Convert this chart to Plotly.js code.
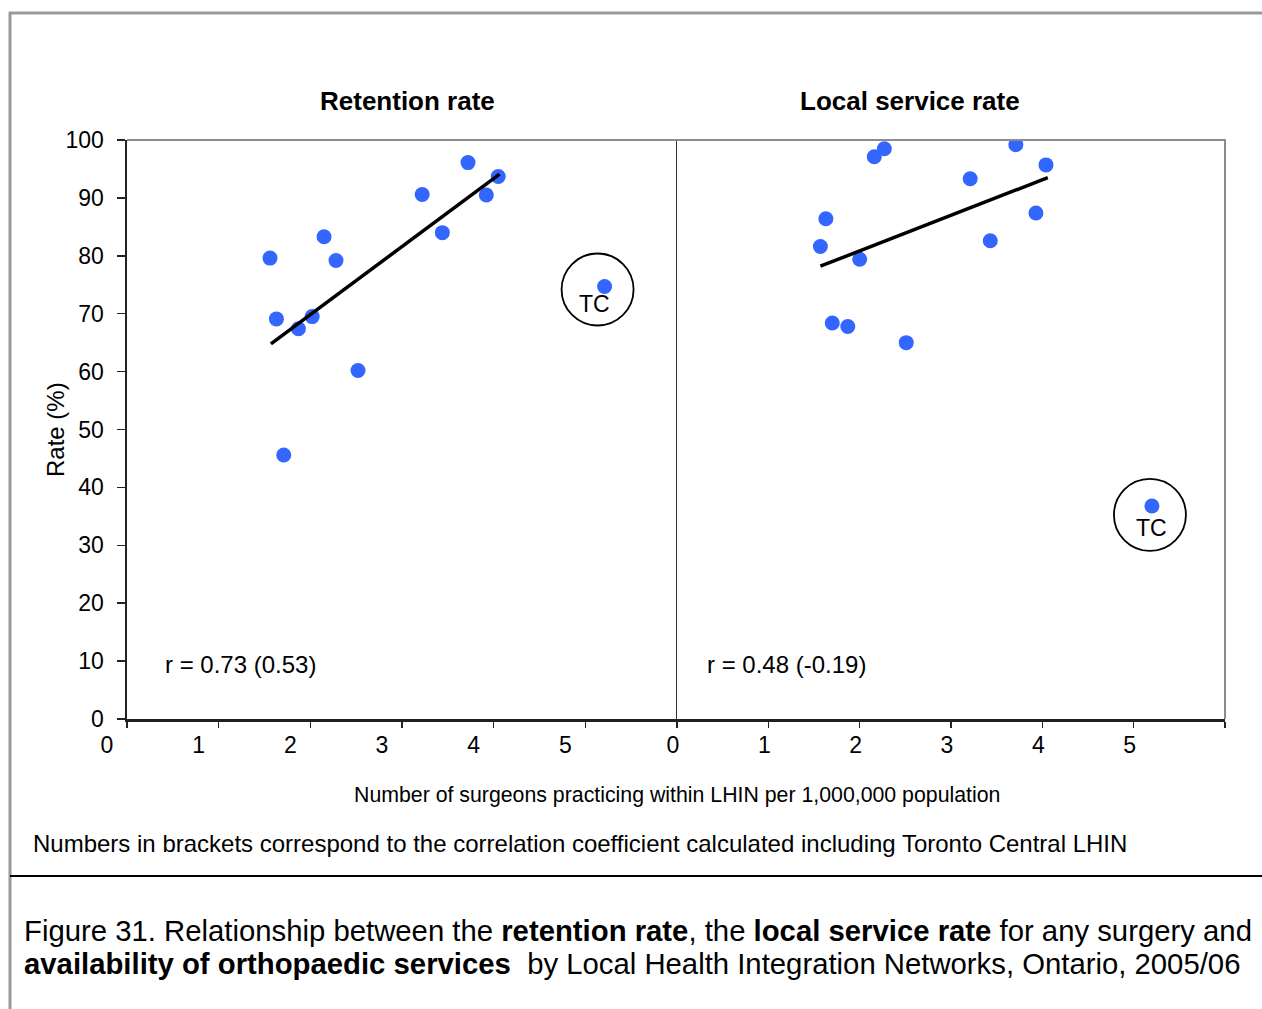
<!DOCTYPE html>
<html>
<head>
<meta charset="utf-8">
<script src="https://cdn.plot.ly/plotly-3.0.1.min.js"></script>
<style>html,body{margin:0;padding:0;background:#fff;}#chart{width:1262px;height:1009px;}</style>
</head>
<body>
<div id="chart"></div>
<script>
// Retention rate panel (surgeons per 1,000,000 vs rate %)
const retX = [1.56, 1.63, 1.71, 1.87, 2.02, 2.15, 2.28, 2.52, 3.22, 3.44, 3.72, 3.92, 4.05];
const retY = [79.6, 69.1, 45.6, 67.4, 69.5, 83.3, 79.2, 60.2, 90.6, 84.0, 96.1, 90.5, 93.7];
const retTC = {x: 5.21, y: 74.7};
const retTrendX = [1.57, 4.065];
const retTrendY = [64.8, 94.1];

// Local service rate panel
const locX = [1.57, 1.63, 1.70, 1.87, 2.00, 2.16, 2.27, 2.51, 3.21, 3.43, 3.71, 3.93, 4.04];
const locY = [81.6, 86.4, 68.4, 67.8, 79.4, 97.1, 98.5, 65.0, 93.3, 82.6, 99.2, 87.4, 95.7];
const locTC = {x: 5.20, y: 36.8};
const locTrendX = [1.57, 4.06];
const locTrendY = [78.2, 93.5];

const xTickVals = [0, 1, 2, 3, 4, 5, 6];
const xTickText = ['0', '1', '2', '3', '4', '5', ''];
const yTickVals = [0, 10, 20, 30, 40, 50, 60, 70, 80, 90, 100];

const panelTitles = ['Retention rate', 'Local service rate'];
const rTexts = ['r = 0.73 (0.53)', 'r = 0.48 (-0.19)'];
const xTitle = 'Number of surgeons practicing within LHIN per 1,000,000 population';
const yTitle = 'Rate (%)';
const noteText = 'Numbers in brackets correspond to the correlation coefficient calculated including Toronto Central LHIN';
const caption1 = 'Figure 31. Relationship between the <b>retention rate</b>, the <b>local service rate</b> for any surgery and';
const caption2 = '<b>availability of orthopaedic services</b>  by Local Health Integration Networks, Ontario, 2005/06';

const FONT = 'Liberation Sans, Arial, Helvetica, sans-serif';
const BLUE = '#3366ff';
const W = 1262, H = 1009;
const px = v => v / W;
const py = v => 1 - v / H;

const mk = {color: BLUE, size: 15};
const traces = [
  {x: retX, y: retY, type: 'scatter', mode: 'markers', marker: mk, xaxis: 'x', yaxis: 'y', hoverinfo: 'none'},
  {x: [retTC.x], y: [retTC.y], type: 'scatter', mode: 'markers', marker: mk, xaxis: 'x', yaxis: 'y', hoverinfo: 'none'},
  {x: retTrendX, y: retTrendY, type: 'scatter', mode: 'lines', line: {color: '#000', width: 3.5}, xaxis: 'x', yaxis: 'y', hoverinfo: 'none'},
  {x: locX, y: locY, type: 'scatter', mode: 'markers', marker: mk, xaxis: 'x2', yaxis: 'y2', hoverinfo: 'none'},
  {x: [locTC.x], y: [locTC.y], type: 'scatter', mode: 'markers', marker: mk, xaxis: 'x2', yaxis: 'y2', hoverinfo: 'none'},
  {x: locTrendX, y: locTrendY, type: 'scatter', mode: 'lines', line: {color: '#000', width: 3.5}, xaxis: 'x2', yaxis: 'y2', hoverinfo: 'none'}
];

const tickFont = {family: FONT, size: 23, color: '#000'};
const xBase = {
  range: [0, 6], tickvals: xTickVals, ticktext: xTickText, ticks: 'outside', ticklen: 6, tickwidth: 1.5,
  tickcolor: '#222', showline: true, linecolor: '#222', linewidth: 2.5, showgrid: false, zeroline: false,
  tickfont: tickFont, fixedrange: true, ticklabelstandoff: -2
};
const layout = {
  width: W, height: H,
  margin: {l: 0, r: 0, t: 0, b: 0},
  paper_bgcolor: '#fff', plot_bgcolor: 'rgba(0,0,0,0)',
  showlegend: false,
  font: {family: FONT, color: '#000'},
  xaxis: Object.assign({}, xBase, {domain: [px(127), px(677)], anchor: 'y', ticklabelshift: -20}),
  xaxis2: Object.assign({}, xBase, {domain: [px(677), px(1225)], anchor: 'y2', ticklabelshift: -4}),
  yaxis: {
    domain: [py(719), py(140)], range: [0, 100], tickvals: yTickVals, ticks: 'outside', ticklen: 8, tickwidth: 1.5,
    tickcolor: '#222', showline: true, linecolor: '#222', linewidth: 2.5, showgrid: false, zeroline: false,
    tickfont: tickFont, anchor: 'x', ticklabelstandoff: 8, fixedrange: true
  },
  yaxis2: {
    domain: [py(719), py(140)], range: [0, 100], showticklabels: false, ticks: '', showline: true,
    linecolor: '#333', linewidth: 1, showgrid: false, zeroline: false, anchor: 'x2', fixedrange: true
  },
  shapes: [
    // plot area top and right borders
    {type: 'line', xref: 'paper', yref: 'paper', x0: px(127), x1: px(1226), y0: py(140), y1: py(140), line: {color: '#8c8c8c', width: 2}},
    {type: 'line', xref: 'paper', yref: 'paper', x0: px(1225), x1: px(1225), y0: py(140), y1: py(719), line: {color: '#8c8c8c', width: 2}},
    // outer frame
    {type: 'line', xref: 'paper', yref: 'paper', x0: px(9), x1: 1, y0: py(13), y1: py(13), line: {color: '#999', width: 3}},
    {type: 'line', xref: 'paper', yref: 'paper', x0: px(10), x1: px(10), y0: py(12), y1: 0, line: {color: '#999', width: 3}},
    {type: 'line', xref: 'paper', yref: 'paper', x0: px(10), x1: 1, y0: py(876), y1: py(876), line: {color: '#000', width: 2}},
    // TC circles anchored on the TC points
    {type: 'circle', xref: 'x', yref: 'y', xsizemode: 'pixel', ysizemode: 'pixel', xanchor: retTC.x, yanchor: retTC.y,
      x0: -43, x1: 29, y0: -39, y1: 33, line: {color: '#000', width: 1.8}},
    {type: 'circle', xref: 'x2', yref: 'y2', xsizemode: 'pixel', ysizemode: 'pixel', xanchor: locTC.x, yanchor: locTC.y,
      x0: -38, x1: 34, y0: -45, y1: 27, line: {color: '#000', width: 1.8}}
  ],
  annotations: [
    {text: '<b>' + panelTitles[0] + '</b>', xref: 'paper', yref: 'paper', x: px(407), y: py(101), showarrow: false, xanchor: 'center', yanchor: 'middle', font: {family: FONT, size: 26}},
    {text: '<b>' + panelTitles[1] + '</b>', xref: 'paper', yref: 'paper', x: px(910), y: py(101), showarrow: false, xanchor: 'center', yanchor: 'middle', font: {family: FONT, size: 26}},
    {text: rTexts[0], xref: 'paper', yref: 'paper', x: px(163), y: py(664), showarrow: false, xanchor: 'left', yanchor: 'middle', font: {family: FONT, size: 24}},
    {text: rTexts[1], xref: 'paper', yref: 'paper', x: px(705), y: py(664), showarrow: false, xanchor: 'left', yanchor: 'middle', font: {family: FONT, size: 24}},
    {text: 'TC', xref: 'x', yref: 'y', x: retTC.x, y: retTC.y, xshift: -10, yshift: -18, showarrow: false, xanchor: 'center', yanchor: 'middle', font: {family: FONT, size: 23}},
    {text: 'TC', xref: 'x2', yref: 'y2', x: locTC.x, y: locTC.y, xshift: 0, yshift: -22, showarrow: false, xanchor: 'center', yanchor: 'middle', font: {family: FONT, size: 23}},
    {text: xTitle, xref: 'paper', yref: 'paper', x: px(677), y: py(795), showarrow: false, xanchor: 'center', yanchor: 'middle', font: {family: FONT, size: 21.3}},
    {text: yTitle, xref: 'paper', yref: 'paper', x: px(55), y: py(430), showarrow: false, textangle: -90, xanchor: 'center', yanchor: 'middle', font: {family: FONT, size: 24}},
    {text: noteText, xref: 'paper', yref: 'paper', x: px(31), y: py(843), showarrow: false, xanchor: 'left', yanchor: 'middle', font: {family: FONT, size: 24}},
    {text: caption1, xref: 'paper', yref: 'paper', x: px(22), y: py(930), showarrow: false, xanchor: 'left', yanchor: 'middle', font: {family: FONT, size: 29.3}},
    {text: caption2, xref: 'paper', yref: 'paper', x: px(22), y: py(963), showarrow: false, xanchor: 'left', yanchor: 'middle', font: {family: FONT, size: 29.3}}
  ]
};

Plotly.newPlot('chart', traces, layout, {displayModeBar: false, staticPlot: true});
</script>
</body>
</html>
